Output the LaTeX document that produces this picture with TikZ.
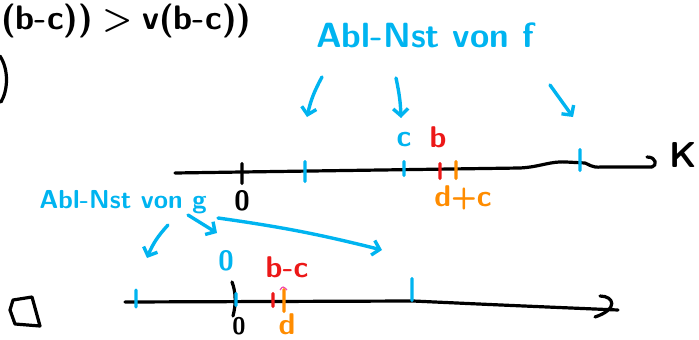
\documentclass[tikz,border=0pt]{standalone}
\usepackage{tikz}
\usepackage{xcolor}
\usetikzlibrary{arrows.meta}
\usetikzlibrary{positioning}

\definecolor{nstblue}{RGB}{0,180,240}
\definecolor{nstred}{RGB}{236,24,24}
\definecolor{nstorange}{RGB}{255,140,0}

\begin{document}
\begin{tikzpicture}[x=1pt, y=-1pt,
    axis/.style={line width=3.2pt, line cap=round, line join=round},
    hand/.style={nstblue, line width=3.4pt, line cap=round, -{Straight Barb[length=7pt, width=15pt]}},
    tick/.style={fill=#1, inner sep=0pt, minimum width=3.2pt, rounded corners=1.5pt},
    txt/.style={inner sep=0pt, font=\sffamily\bfseries\fontsize{#1}{#1}\selectfont},
    txt/.default=30]
    \useasboundingbox (0,0) rectangle (699,340);
    \clip (0,0) rectangle (699,340);

    % Rest der Ungleichung von oben
    \node[txt=34, anchor=base west] (ungl) at (1,29) {(b-c))\;>\;v(b-c))};
    \draw[axis] (0,56) .. controls (9,70) and (8,90) .. (1,102);

    % obere Achse
    \coordinate (ka) at (175,173);
    \coordinate (ke) at (652,167);
    \draw[axis] (ka) -- (242,172) -- (520,168) .. controls (540,167) and (550,161) .. (566,162)
        -- (585,163) .. controls (590,164) and (590,168) .. (602,167) -- (ke);
    \draw[axis] (ke) .. controls (657,166) and (657,157) .. (647,157);
    \node[txt=36] (lk) at (683,155) {K};

    \node[tick=black, minimum height=23pt] (n0) at (242,173.5) {};
    \node[tick=nstblue, minimum height=23pt] (n1) at (305,171.5) {};
    \node[tick=nstblue, minimum height=17pt] (nc) at (404,168.5) {};
    \node[tick=nstred, minimum height=18pt] (nb) at (440,171) {};
    \node[tick=nstorange, minimum height=20pt] (ndc) at (456,170) {};
    \node[tick=nstblue, minimum height=24pt] (n2) at (580,160) {};

    \node[txt=28, below=5pt of n0] (l0) {0};
    \node[txt, nstblue, above=13pt of nc] (lc) {c};
    \node[txt, nstred, above=14pt of nb, xshift=-2pt] (lb) {b};
    \node[txt, nstorange, below=5pt of ndc, xshift=7pt] (ldc) {d+c};

    % Ableitungsnullstellen von f
    \node[txt=35, nstblue] (nstf) at (425,35) {Abl-Nst von f};
    \coordinate (f1a) at (322,77);  \coordinate (f1b) at (307,117);
    \coordinate (f2a) at (396,78);  \coordinate (f2b) at (401,118);
    \coordinate (f3a) at (550,85);  \coordinate (f3b) at (573,117);
    \draw[hand] (f1a) to[bend right=8] (f1b);
    \draw[hand] (f2a) to[bend left=5] (f2b);
    \draw[hand] (f3a) -- (f3b);

    % untere Achse
    \coordinate (ga) at (125,302);
    \coordinate (ge) at (618,310);
    \draw[axis] (ga) -- (413,301) .. controls (500,305) .. (ge);
    \draw[axis] (600,296) .. controls (614,296) and (619,309) .. (595,317);

    \draw[axis] (232,282) .. controls (236,292) and (236,305) .. (233,316);
    \node[tick=nstblue, minimum height=20pt] (m1) at (136,298.5) {};
    \node[tick=nstblue, minimum height=15pt] (m0) at (236,299.5) {};
    \node[tick=nstred, minimum height=16pt] (mb) at (273,300) {};
    \node[tick=nstorange, minimum height=25pt] (md) at (284,300.5) {};
    \node[tick=nstblue, minimum height=25pt] (m2) at (412,289.5) {};
    \draw[magenta!70, line width=1.2pt] (280,290) .. controls (283,286) .. (287,290);

    \node[txt=28, nstblue, above=20pt of m0, xshift=-10pt] (lm0) {0};
    \node[txt, nstred, above=14pt of mb, xshift=14pt] (lbc) {b-c};
    \node[txt=24, below=10pt of m0, xshift=3pt] (lm0b) {0};
    \node[txt, nstorange, below=0pt of md, xshift=3pt] (ld) {d};

    % Ableitungsnullstellen von g
    \node[txt=26, nstblue] (nstg) at (123,202) {Abl-Nst von g};
    \coordinate (g1a) at (168,225); \coordinate (g1b) at (147,258);
    \coordinate (g2a) at (188,215); \coordinate (g2b) at (217,233);
    \coordinate (g3a) at (218,218); \coordinate (g3b) at (382,250);
    \draw[hand] (g1a) to[bend right=10] (g1b);
    \draw[hand] (g2a) -- (g2b);
    \draw[hand] (g3a) to[bend left=3] (g3b);

    % Kasten unten links
    \draw[axis] (13,300) -- (32,297) -- (40,326) -- (15,324) -- (10,310) -- cycle;
\end{tikzpicture}
\end{document}
